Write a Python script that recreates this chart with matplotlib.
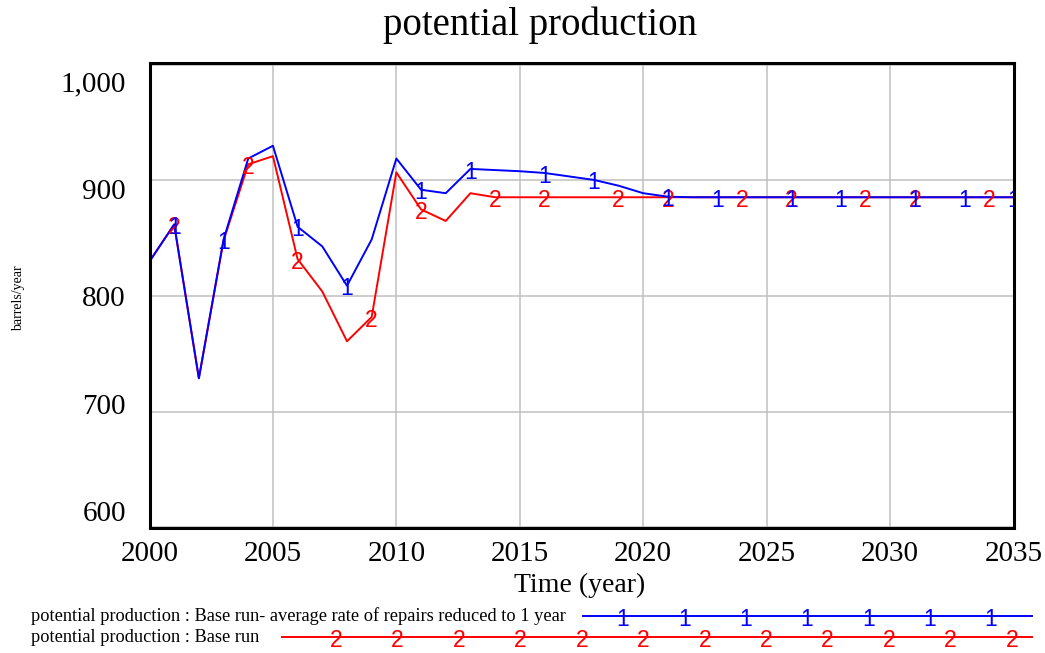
import numpy as np
import matplotlib
matplotlib.use("Agg")
import matplotlib.pyplot as plt
from matplotlib.lines import Line2D
from matplotlib.transforms import ScaledTranslation

# ---------------- data ----------------
years = list(range(2000, 2036))
repairs_1yr = [830, 862, 729, 849, 919, 930, 860, 843, 809, 849,
               919, 892, 889, 910, 909, 908, 906.5, 903.5, 900.5, 895.5,
               889, 886, 885.5, 885.5, 885.5, 885.5, 885.5, 885.5, 885.5, 885.5,
               885.5, 885.5, 885.5, 885.5, 885.5, 885.5]
base_run = [830, 862, 729, 848, 914, 921, 832, 804, 761, 782,
            907, 875, 865, 889, 885.5, 885.5, 885.5, 885.5, 885.5, 885.5,
            885.5, 885.5, 885.5, 885.5, 885.5, 885.5, 885.5, 885.5, 885.5, 885.5,
            885.5, 885.5, 885.5, 885.5, 885.5, 885.5]
marker_years_1 = [2001, 2003, 2006, 2008, 2011, 2013, 2016, 2018, 2021, 2023,
                  2026, 2028, 2031, 2033, 2035]
marker_years_2 = [2001, 2004, 2006, 2009, 2011, 2014, 2016, 2019, 2021, 2024,
                  2026, 2029, 2031, 2034]
x_ticks = [2000, 2005, 2010, 2015, 2020, 2025, 2030, 2035]
y_ticks = [600, 700, 800, 900, 1000]
y_tick_labels = ["600", "700", "800", "900", "1,000"]
title = "potential production"
x_label = "Time (year)"
y_label = "barrels/year"
legend_1 = "potential production : Base run- average rate of repairs reduced to 1 year"
legend_2 = "potential production : Base run"

BLUE = "#0000ff"
RED = "#ff0000"
SERIF = ["Liberation Serif", "DejaVu Serif"]
SANS = ["Liberation Sans", "DejaVu Sans"]
MK = 16.5
MK_OFF = -(0.716 * MK / 2 + 1.0)  # baseline offset so digit is centred just below the line

W, H = 1045, 653
fig = plt.figure(figsize=(W / 100, H / 100), dpi=100)
fig.patch.set_facecolor("white")

def fx(px):
    return px / W

def fy(py):
    return 1 - py / H

left, right, top, bottom = 149.5, 1013.5, 62.5, 527.5
ax = fig.add_axes([fx(left), fy(bottom), (right - left) / W, (bottom - top) / H])

ax.plot(years, base_run, color=RED, lw=1.4, zorder=3)
ax.plot(years, repairs_1yr, color=BLUE, lw=1.4, zorder=4)

for yr in marker_years_2:
    i = years.index(yr)
    ax.annotate("2", (yr, base_run[i]), xytext=(0, MK_OFF), textcoords="offset points",
                color=RED, fontsize=MK, family=SANS, ha="center", va="baseline",
                zorder=5, annotation_clip=False, clip_on=True)
for yr in marker_years_1:
    i = years.index(yr)
    ax.annotate("1", (yr, repairs_1yr[i]), xytext=(0, MK_OFF), textcoords="offset points",
                color=BLUE, fontsize=MK, family=SANS, ha="center", va="baseline",
                zorder=6, annotation_clip=False, clip_on=True)

ax.set_xlim(2000, 2035)
ax.set_ylim(600, 1002)
ax.set_xticks(x_ticks)
ax.set_yticks(y_ticks)
ax.set_yticklabels(y_tick_labels)
ax.grid(True, color="#c0c0c0", lw=1.1, zorder=0)
ax.set_axisbelow(True)
ax.tick_params(length=0)
ax.tick_params(axis="x", pad=10, labelsize=21)
ax.tick_params(axis="y", pad=17, labelsize=21)
for lab in ax.get_xticklabels() + ax.get_yticklabels():
    lab.set_family(SERIF)

# Vensim-style evenly inset y labels
offsets_px = [16.4, 8.2, 0.0, -8.2, -16.4]  # upward shifts for 600..1000
for lab, off in zip(ax.get_yticklabels(), offsets_px):
    lab.set_transform(lab.get_transform() + ScaledTranslation(0, off / 100, fig.dpi_scale_trans))

for sp in ax.spines.values():
    sp.set_linewidth(2.2)
    sp.set_color("black")
    sp.set_zorder(10)

fig.text(fx(540), fy(25), title, fontsize=28, family=SERIF, ha="center", va="center")
fig.text(fx(580), fy(585), x_label, fontsize=20, family=SERIF, ha="center", va="center")
fig.text(fx(19), fy(298), y_label, fontsize=10, family=SERIF, ha="center", va="center",
         rotation=90)

# legend
fig.text(fx(31), fy(616), legend_1, fontsize=13.2, family=SERIF, ha="left", va="center")
fig.text(fx(31), fy(637), legend_2, fontsize=13.2, family=SERIF, ha="left", va="center")
fig.add_artist(Line2D([fx(583), fx(1032)], [fy(616), fy(616)], color=BLUE, lw=1.4))
fig.add_artist(Line2D([fx(282), fx(1032)], [fy(637), fy(637)], color=RED, lw=1.4))
mk_dy = (0.716 * MK / 2 + 1.0) * 100 / 72 / H  # same visual centring in figure fraction
for px in np.arange(7) * 61.3 + 623:
    fig.text(fx(px), fy(616) - mk_dy, "1", color=BLUE, fontsize=MK, family=SANS,
             ha="center", va="baseline")
for px in np.arange(12) * 61.45 + 336:
    fig.text(fx(px), fy(637) - mk_dy, "2", color=RED, fontsize=MK, family=SANS,
             ha="center", va="baseline")

fig.savefig("out.png", dpi=100)
